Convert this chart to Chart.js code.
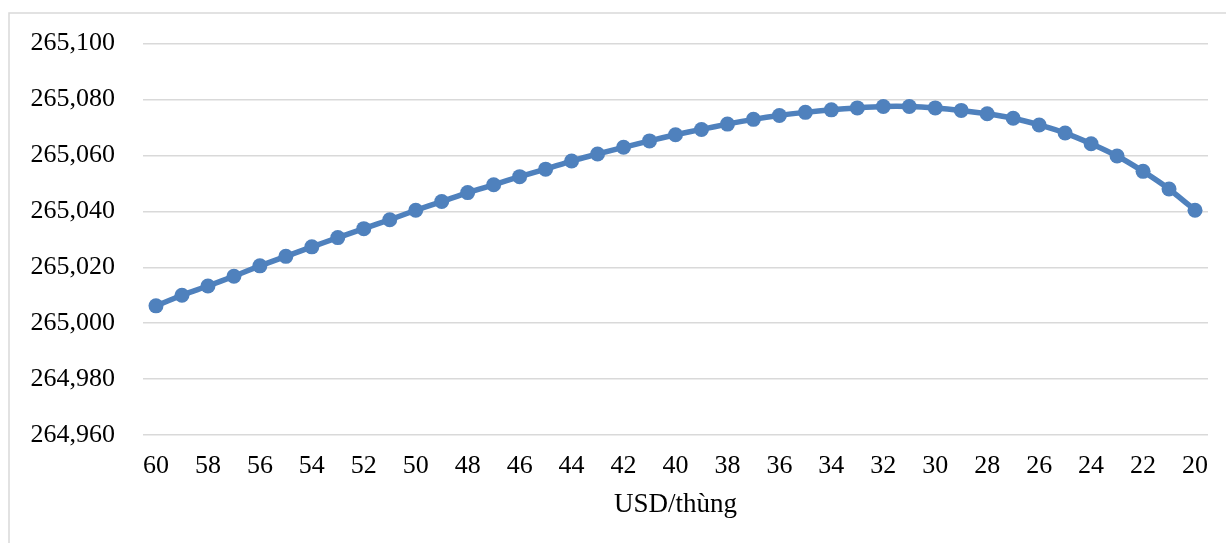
<!DOCTYPE html>
<html>
<head>
<meta charset="utf-8">
<script src="https://cdn.jsdelivr.net/npm/chart.js@4.4.0/dist/chart.umd.min.js"></script>
<style>
html,body{margin:0;padding:0;background:#fff;}
#wrap{position:relative;width:1226px;height:543px;}
</style>
</head>
<body>
<div id="wrap"><canvas id="c"></canvas></div>
<script>
const categories = [60,59,58,57,56,55,54,53,52,51,50,49,48,47,46,45,44,43,42,41,40,39,38,37,36,35,34,33,32,31,30,29,28,27,26,25,24,23,22,21,20];
const seriesValues = [
  265006.2, 265010.0, 265013.3, 265016.8, 265020.5, 265023.9, 265027.3, 265030.6, 265033.8, 265037.0,
  265040.4, 265043.5, 265046.7, 265049.5, 265052.4, 265055.1, 265058.0, 265060.5, 265062.9, 265065.2,
  265067.4, 265069.3, 265071.2, 265072.9, 265074.3, 265075.4, 265076.3, 265077.0, 265077.5, 265077.5,
  265077.0, 265076.1, 265074.9, 265073.3, 265070.9, 265068.0, 265064.2, 265059.8, 265054.3, 265048.0,
  265040.4
];
const yMin = 264960;
const yMax = 265100;
const yStep = 20;
const xTitle = "USD/thùng";

const FONT = "'Liberation Serif', 'Times New Roman', serif";

const borderPlugin = {
  id: 'outerBorder',
  beforeDraw(chart) {
    const ctx = chart.ctx;
    ctx.save();
    ctx.fillStyle = '#fff';
    ctx.fillRect(0, 0, chart.width, chart.height);
    ctx.strokeStyle = '#d9d9d9';
    ctx.lineWidth = 1.5;
    ctx.strokeRect(9, 13, chart.width + 10, chart.height + 10);
    ctx.restore();
  }
};

new Chart(document.getElementById('c'), {
  type: 'line',
  data: {
    labels: categories,
    datasets: [{
      data: seriesValues,
      borderColor: '#4f81bd',
      backgroundColor: '#4f81bd',
      borderWidth: 5.5,
      pointRadius: 7.5,
      pointHoverRadius: 7.5,
      pointBorderWidth: 0,
      pointBackgroundColor: '#4f81bd',
      tension: 0.2,
      fill: false
    }]
  },
  options: {
    responsive: true,
    maintainAspectRatio: false,
    animation: false,
    devicePixelRatio: 1,
    layout: { padding: { left: 0, top: 43, right: 18, bottom: 0 } },
    plugins: { legend: { display: false }, tooltip: { enabled: false } },
    scales: {
      x: {
        type: 'category',
        offset: true,
        grid: { display: false, drawTicks: false },
        border: { display: false },
        ticks: {
          autoSkip: false,
          maxRotation: 0,
          padding: 16,
          color: '#000',
          font: { family: FONT, size: 26 },
          callback: function(val, idx) { return idx % 2 === 0 ? String(categories[idx]) : ''; }
        },
        title: {
          display: true,
          text: xTitle,
          color: '#000',
          font: { family: FONT, size: 27 },
          padding: { top: 0, bottom: 22 }
        },
        afterFit(scale) { scale.height = 108; }
      },
      y: {
        min: yMin,
        max: yMax,
        grid: { color: '#d9d9d9', lineWidth: 1.5, drawTicks: false },
        border: { display: false },
        ticks: {
          stepSize: yStep,
          padding: 28,
          color: '#000',
          font: { family: FONT, size: 26 },
          callback: v => v.toLocaleString('en-US')
        },
        afterFit(scale) { scale.width = 143; }
      }
    }
  },
  plugins: [borderPlugin]
});
</script>
</body>
</html>
